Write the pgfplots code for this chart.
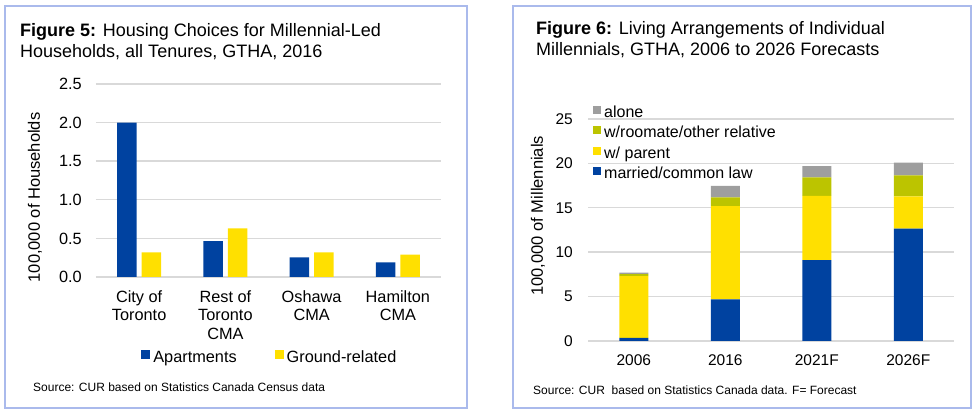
\documentclass[border=0pt]{standalone}
\usepackage{fontspec}
\setmainfont{Liberation Sans}
\usepackage{pgfplots}
\pgfplotsset{compat=1.18}

\definecolor{cblue}{RGB}{0,66,160}
\definecolor{cyellow}{RGB}{255,224,0}
\definecolor{cgreen}{RGB}{188,196,0}
\definecolor{cgrey}{RGB}{158,158,158}
\definecolor{cgrid}{RGB}{217,217,217}
\definecolor{cframe}{RGB}{170,186,236}

\pgfplotsset{
  panel/.style={
    scale only axis,
    anchor=south west,
    axis line style={draw=none},
    major tick length=0pt,
    ymajorgrids,
    grid style={cgrid, line width=1.4pt},
    xmin=-0.5, xmax=3.5,
    ymin=0,
    xtick={0,1,2,3},
    /pgf/number format/assume math mode=true,
  },
}

\begin{document}
\begin{tikzpicture}[x=1pt,y=1pt]

% frames
\draw[cframe, line width=1.2pt] (5,411) rectangle (467,9);
\draw[cframe, line width=1.2pt] (513,411) rectangle (971,9);

% titles
\node[anchor=base west, inner sep=0, font=\fontsize{18}{21}\selectfont] at (20,380.3) {\textbf{Figure 5:} Housing Choices for Millennial-Led};
\node[anchor=base west, inner sep=0, font=\fontsize{18}{21}\selectfont] at (20,359.3) {Households, all Tenures, GTHA, 2016};
\node[anchor=base west, inner sep=0, font=\fontsize{18}{21}\selectfont] at (536,382.7) {\textbf{Figure 6:} Living Arrangements of Individual};
\node[anchor=base west, inner sep=0, font=\fontsize{18}{21}\selectfont] at (536,361) {Millennials, GTHA, 2006 to 2026 Forecasts};

% sources
\node[anchor=base west, inner sep=0, font=\fontsize{12}{14}\selectfont] at (33,25.3) {Source: CUR based on Statistics Canada Census data};
\node[anchor=base west, inner sep=0, font=\fontsize{12}{14}\selectfont] at (533,22) {Source: CUR\ \ based on Statistics Canada data. F= Forecast};

% Figure 5
\begin{axis}[panel,
  at={(96pt,140pt)}, width=345pt, height=193pt,
  ymax=2.5, ytick={0,0.5,...,2.5},
  yticklabel style={font=\fontsize{16.3}{18}\selectfont, anchor=east, inner sep=0pt, xshift=-14pt,
    /pgf/number format/.cd, fixed, fixed zerofill, precision=1},
  xticklabels={{City of\\Toronto},{Rest of\\Toronto\\CMA},{Oshawa\\CMA},{Hamilton\\CMA}},
  xticklabel style={font=\fontsize{16.3}{18.3}\selectfont, align=center, anchor=north, inner sep=0pt, yshift=-13.5pt},
  ylabel={100,000 of Households},
  ylabel style={font=\fontsize{16.5}{18}\selectfont, at={(axis description cs:-0.177,0.412)}, anchor=center},
  ybar=5pt, bar width=19.5pt,
  legend image code/.code={\fill[#1] (0pt,-0.5pt) rectangle (9pt,8.5pt);},
  legend columns=2,
  legend cell align=left,
  legend style={draw=none, fill=none, at={(axis description cs:0.501,-0.42)}, anchor=center,
    font=\fontsize{16.3}{18}\selectfont, inner sep=0pt,
    /tikz/every odd column/.append style={column sep=3pt},
    /tikz/every even column/.append style={column sep=38pt},
    nodes={inner sep=0pt, text height=12pt, text depth=3.5pt}},
]
\addplot[fill=cblue, draw=none] coordinates {(0,2.0) (1,0.465) (2,0.255) (3,0.19)};
\addplot[fill=cyellow, draw=none] coordinates {(0,0.32) (1,0.63) (2,0.32) (3,0.29)};
\legend{Apartments, Ground-related}
\end{axis}

% Figure 6
\begin{axis}[panel,
  at={(588pt,76pt)}, width=366pt, height=222pt,
  ymax=25, ytick={0,5,...,25},
  yticklabel style={font=\fontsize{15.5}{18}\selectfont, anchor=east, inner sep=0pt, xshift=-15pt},
  xticklabels={2006,2016,2021F,2026F},
  xticklabel style={font=\fontsize{15.5}{18}\selectfont, anchor=north, inner sep=0pt, yshift=-13pt},
  ylabel={100,000 of Millennials},
  ylabel style={font=\fontsize{16.5}{18}\selectfont, at={(axis description cs:-0.137,0.564)}, anchor=center},
  ybar stacked, bar width=29pt,
  legend image code/.code={\fill[#1] (0pt,-0.5pt) rectangle (8pt,7.5pt);},
  reverse legend,
  legend cell align=left,
  legend style={draw=none, fill=none, at={(axis description cs:0.0128,1.061)}, anchor=north west,
    font=\fontsize{16}{18}\selectfont, inner sep=0pt, row sep=4.8pt,
    nodes={inner sep=0pt, text height=12pt, text depth=3.5pt},
    /tikz/every odd column/.append style={column sep=3.3pt}},
]
\addplot[fill=cblue, draw=none] coordinates {(0,0.35) (1,4.7) (2,9.1) (3,12.65)};
\addplot[fill=cyellow, draw=none] coordinates {(0,6.95) (1,10.5) (2,7.25) (3,3.65)};
\addplot[fill=cgreen, draw=none] coordinates {(0,0.22) (1,0.98) (2,2.07) (3,2.36)};
\addplot[fill=cgrey, draw=none] coordinates {(0,0.19) (1,1.28) (2,1.27) (3,1.43)};
\legend{married/common law, w/ parent, w/roomate/other relative, alone}
\end{axis}

\pgfresetboundingbox
\path (0,0) rectangle (980,417);
\end{tikzpicture}
\end{document}
